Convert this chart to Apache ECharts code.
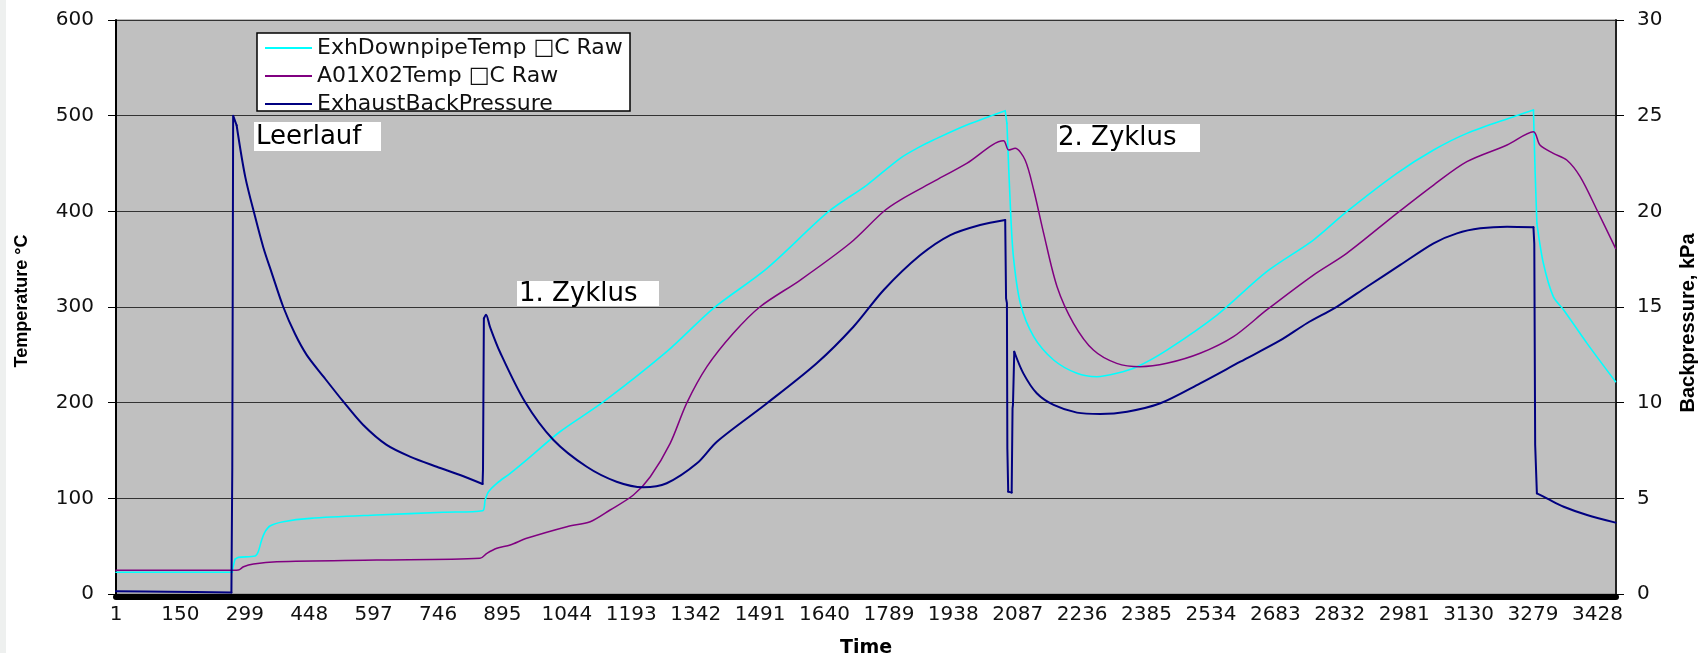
<!DOCTYPE html>
<html>
<head>
<meta charset="utf-8">
<script src="https://cdn.jsdelivr.net/npm/echarts@6/dist/echarts.min.js"></script>
<style>
html,body{margin:0;padding:0;background:#fff;}
#c{width:1702px;height:653px;}
</style>
</head>
<body>
<div id="c"></div>
<script>
// ---- tick labels (category counter shown on the time axis) ----
const tickLabels = ['1','150','299','448','597','746','895','1044','1193','1342','1491','1640',
  '1789','1938','2087','2236','2385','2534','2683','2832','2981','3130','3279','3428'];
const tickStep = 149;

// ---- series names ----
const seriesNames = ['ExhDownpipeTemp \u25A1C Raw', 'A01X02Temp \u25A1C Raw', 'ExhaustBackPressure'];
const annotationTexts = ['Leerlauf', '1. Zyklus', '2. Zyklus'];

// ---- ExhDownpipeTemp (°C) ----
const exhTime = [1, 270, 272, 276, 284, 323, 330, 338, 346, 357, 388, 450, 604, 758, 849, 855, 863, 882, 913, 955,
  1028, 1129, 1275, 1383, 1507, 1649, 1738, 1815, 1861, 1892, 1969, 2058, 2062, 2070, 2077, 2093, 2124, 2170,
  2224, 2270, 2316, 2363, 2432, 2548, 2663, 2771, 2848, 2964, 3049, 3126, 3234, 3280, 3284, 3288, 3303, 3326,
  3350, 3404, 3470];
const exhTemp = [22.7, 22.7, 28.5, 36.2, 38.3, 39.7, 44.2, 56.4, 65.1, 71.1, 75.6, 79.1, 82.6, 85.4, 87.1, 98.3, 107, 115.7, 126.2, 141.8,
  169.6, 201, 253.3, 298.6, 340.4, 399.6, 427.5, 455.4, 467.6, 474.6, 490.2, 505.2, 492, 404.8, 352.6, 303.9, 269, 244.6,
  230.7, 227.1, 230.7, 237.6, 255, 291.6, 337, 370, 399.6, 439.7, 464.1, 481.5, 498.9, 505.9, 439.7, 387.5, 345.7, 310.8,
  296.9, 262, 221.9];

// ---- A01X02Temp (°C) ----
const a01Time = [1, 272, 284, 296, 319, 373, 604, 843, 859, 882, 913, 951, 1044, 1098, 1144, 1198, 1237, 1283, 1321,
  1368, 1429, 1491, 1584, 1699, 1776, 1815, 1892, 1969, 2054, 2066, 2081, 2104, 2124, 2147, 2178, 2216, 2262, 2316,
  2370, 2432, 2509, 2586, 2663, 2771, 2848, 2964, 3049, 3126, 3219, 3280, 3295, 3326, 3357, 3388, 3427, 3470];
const a01Temp = [24.8, 24.8, 25, 28.5, 31.4, 33.8, 35.5, 37.3, 42.5, 47.8, 51.2, 58.2, 70.4, 75.6, 87.8, 103.5, 122.6, 157.5, 199.3,
  237.6, 272.5, 300.3, 328.2, 366.6, 399.6, 411.8, 431, 450.2, 473.8, 464.1, 465.9, 453.6, 422.3, 377, 321.2, 283, 255, 241.1,
  237.6, 241.1, 251.6, 269, 296.9, 333.4, 356.1, 397.9, 427.5, 451.9, 469.3, 483.2, 469.3, 460.6, 453.6, 436.2, 401.4, 361.3];

// ---- ExhaustBackPressure (kPa) ----
const bpTime = [1, 120, 268, 270, 271, 272, 276, 280, 300, 323, 342, 361, 388, 415, 442, 481, 527, 573, 627, 681, 743, 797,
  849, 850, 852, 857, 866, 889, 947, 1013, 1090, 1159, 1221, 1275, 1345, 1391, 1507, 1622, 1707, 1777, 1861, 1931, 2000,
  2058, 2060, 2062, 2063, 2065, 2073, 2075, 2076, 2079, 2100, 2131, 2170, 2224, 2278, 2340, 2417, 2509, 2602, 2694,
  2756, 2825, 2895, 2972, 3049, 3103, 3157, 3219, 3280, 3282, 3284, 3288, 3311, 3350, 3404, 3470];
const bpKPa = [0.15, 0.12, 0.08, 6.6, 6.7, 25.0, 25.1, 24.5, 21.8, 19.7, 18.1, 16.8, 15.0, 13.6, 12.5, 11.36, 10.05, 8.83, 7.79, 7.18, 6.65, 6.22,
  5.75, 6.5, 14.4, 14.6, 13.97, 12.66, 10.05, 8.05, 6.65, 5.87, 5.58, 5.79, 6.83, 7.96, 9.97, 12.06, 13.97, 15.89, 17.7, 18.76, 19.29,
  19.55, 15.45, 15.2, 7.6, 5.35, 5.3, 9.7, 9.9, 12.66, 11.53, 10.49, 9.88, 9.48, 9.41, 9.53, 9.97, 11.01, 12.14, 13.25,
  14.15, 15.01, 16.06, 17.2, 18.33, 18.85, 19.11, 19.2, 19.17, 18.3, 7.8, 5.26, 5.0, 4.56, 4.13, 3.73];

// time axis is drawn as offset from the first sample (so ticks fall on 1,150,299,...)
const zip = (ts, vs) => ts.map((t, i) => [t - 1, vs[i]]);

// split a trace into runs: sudden jumps are drawn straight, gradual parts smoothed
function pieces(ts, vs) {
  const pts = zip(ts, vs);
  const out = [];
  let cur = null;
  for (let i = 0; i < pts.length - 1; i++) {
    const jump = (ts[i + 1] - ts[i]) <= 4;
    if (!cur || cur.jump !== jump) {
      cur = {jump: jump, data: [pts[i]]};
      out.push(cur);
    }
    cur.data.push(pts[i + 1]);
  }
  return out;
}

function makeSeries(name, ts, vs, color, width, axis) {
  return pieces(ts, vs).map(p => ({
    name: name, type: 'line', yAxisIndex: axis, symbol: 'none', showSymbol: false,
    smooth: p.jump ? false : 0.3,
    color: color, lineStyle: {color: color, width: width, cap: 'round', join: 'round'},
    data: p.data
  }));
}

const chart = echarts.init(document.getElementById('c'), null, {renderer: 'canvas'});
const labelFont = 'DejaVu Sans';
const annFont = '26px "DejaVu Sans"';
const option = {
  animation: false,
  backgroundColor: '#ffffff',
  grid: {
    left: 116, right: 86, top: 20, bottom: 59,
    show: true, backgroundColor: '#c0c0c0', borderColor: '#808080', borderWidth: 1,
    containLabel: false, outerBoundsMode: 'none'
  },
  legend: {
    orient: 'vertical', left: 257, top: 33,
    padding: [4, 0, 0, 8],
    icon: 'rect', itemWidth: 47, itemHeight: 2, itemGap: 6,
    z: 20,
    textStyle: {fontFamily: labelFont, fontSize: 22, lineHeight: 21, color: '#111'},
    data: seriesNames
  },
  xAxis: {
    type: 'value', min: 0, max: 3470, interval: tickStep, offset: 3,
    name: 'Time', nameLocation: 'middle', nameGap: 42,
    nameTextStyle: {fontFamily: labelFont, fontWeight: 'bold', fontSize: 19, color: '#000'},
    axisLine: {show: true, onZero: false, lineStyle: {color: '#000', width: 6}},
    axisTick: {show: false},
    splitLine: {show: false},
    axisLabel: {
      fontFamily: labelFont, fontSize: 20, color: '#111', margin: 8,
      showMaxLabel: false,
      formatter: function (v) {
        const k = Math.round(v / tickStep);
        return (Math.abs(v - k * tickStep) < 1e-6 && k < tickLabels.length) ? tickLabels[k] : '';
      }
    }
  },
  yAxis: [
    {
      type: 'value', min: 0, max: 600, interval: 100, position: 'left',
      name: 'Temperature \u00B0C', nameLocation: 'middle', nameRotate: 90, nameGap: 85,
      nameTextStyle: {fontFamily: 'Liberation Sans', fontWeight: 'bold', fontSize: 18, color: '#000', padding: [0, 0, 0, 12]},
      axisLine: {show: true, lineStyle: {color: '#000', width: 2}},
      axisTick: {show: true, length: 8, inside: false, lineStyle: {color: '#000', width: 1}},
      splitLine: {show: true, lineStyle: {color: '#333', width: 1}},
      axisLabel: {fontFamily: labelFont, fontSize: 20, color: '#111', margin: 22}
    },
    {
      type: 'value', min: 0, max: 30, interval: 5, position: 'right',
      name: 'Backpressure, kPa', nameLocation: 'middle', nameRotate: 90, nameGap: 62,
      nameTextStyle: {fontFamily: 'Liberation Sans', fontWeight: 'bold', fontSize: 20, color: '#000', padding: [0, 32, 0, 0]},
      axisLine: {show: true, lineStyle: {color: '#222', width: 2}},
      axisTick: {show: true, length: 8, inside: false, lineStyle: {color: '#000', width: 1}},
      splitLine: {show: false},
      axisLabel: {fontFamily: labelFont, fontSize: 20, color: '#111', margin: 21}
    }
  ],
  graphic: [
    {type: 'rect', z: 100, shape: {x: 0, y: 0, width: 6, height: 653}, style: {fill: '#eef0ef'}},
    {type: 'rect', z: 10, shape: {x: 257, y: 33, width: 373, height: 78}, style: {fill: '#fff', stroke: '#000', lineWidth: 1.5}},
    {type: 'rect', z: 10, shape: {x: 254, y: 122, width: 127, height: 29}, style: {fill: '#fff'}},
    {type: 'text', z: 11, x: 256, y: 137, style: {text: annotationTexts[0], fill: '#000', font: annFont, verticalAlign: 'middle'}},
    {type: 'rect', z: 10, shape: {x: 517, y: 281, width: 142, height: 25}, style: {fill: '#fff'}},
    {type: 'text', z: 11, x: 519, y: 294, style: {text: annotationTexts[1], fill: '#000', font: annFont, verticalAlign: 'middle'}},
    {type: 'rect', z: 10, shape: {x: 1057, y: 124, width: 143, height: 28}, style: {fill: '#fff'}},
    {type: 'text', z: 11, x: 1058, y: 138.5, style: {text: annotationTexts[2], fill: '#000', font: annFont, verticalAlign: 'middle'}}
  ],
  series: [].concat(
    makeSeries(seriesNames[0], exhTime, exhTemp, '#00ffff', 1.6, 0),
    makeSeries(seriesNames[1], a01Time, a01Temp, '#800080', 1.5, 0),
    makeSeries(seriesNames[2], bpTime, bpKPa, '#000080', 2, 1)
  )
};
chart.setOption(option);
</script>
</body>
</html>
